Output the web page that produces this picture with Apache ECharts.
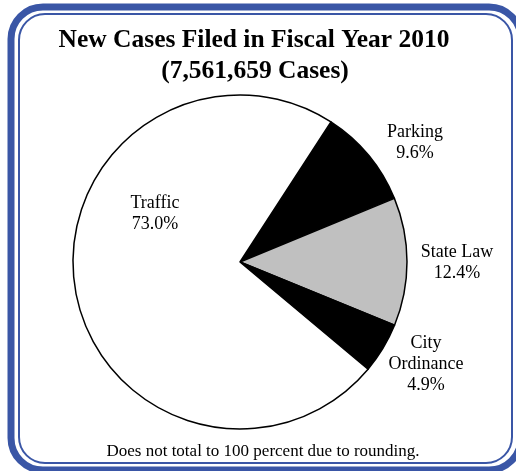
<!DOCTYPE html>
<html><head><meta charset="utf-8">
<script src="https://cdn.jsdelivr.net/npm/echarts@6/dist/echarts.min.js"></script>
<style>html,body{margin:0;padding:0;background:#fff}#c{width:516px;height:471px}</style>
</head><body><div id="c"></div>
<script>
const categories = ['Parking', 'State Law', 'City\nOrdinance', 'Traffic'];
const values = [9.6, 12.4, 4.9, 73.0];
const valueLabels = ['9.6%', '12.4%', '4.9%', '73.0%'];
const titleLines = ['New Cases Filed in Fiscal Year 2010', '(7,561,659 Cases)'];
const footnote = 'Does not total to 100 percent due to rounding.';

const colors = ['#000000', '#c0c0c0', '#000000', '#ffffff'];
const labelPos = [[415, 143], [457, 263], [426, 364], [155, 214]];
const FONT = '"Liberation Serif", serif';

const chart = echarts.init(document.getElementById('c'), null, {renderer: 'canvas'});
chart.setOption({
  animation: false,
  backgroundColor: '#fff',
  graphic: [
    {type: 'rect', shape: {x: 11, y: 7, width: 510, height: 463, r: 32},
     style: {fill: 'none', stroke: '#3a56a6', lineWidth: 7}},
    {type: 'rect', shape: {x: 19, y: 14, width: 493, height: 449, r: 26},
     style: {fill: 'none', stroke: '#3a56a6', lineWidth: 2}},
    {type: 'text', x: 254, y: 40,
     style: {text: titleLines[0], font: 'bold 25.5px ' + FONT, fill: '#000', align: 'center', verticalAlign: 'middle'}},
    {type: 'text', x: 255, y: 71,
     style: {text: titleLines[1], font: 'bold 25.5px ' + FONT, fill: '#000', align: 'center', verticalAlign: 'middle'}},
    {type: 'text', x: 263, y: 452,
     style: {text: footnote, font: '17px ' + FONT, fill: '#000', align: 'center', verticalAlign: 'middle'}}
  ],
  series: [{
    type: 'pie',
    center: [240, 262],
    radius: [0, 167],
    startAngle: 57,
    clockwise: true,
    avoidLabelOverlap: false,
    itemStyle: {borderColor: '#000', borderWidth: 1.5},
    emphasis: {disabled: true},
    labelLine: {show: false},
    label: {
      show: true,
      position: 'outside',
      color: '#000',
      fontFamily: FONT,
      fontSize: 18,
      lineHeight: 21,
      align: 'center',
      formatter: p => p.name + '\n' + valueLabels[p.dataIndex]
    },
    labelLayout: p => ({x: labelPos[p.dataIndex][0], y: labelPos[p.dataIndex][1], align: 'center', verticalAlign: 'middle'}),
    data: categories.map((c, i) => ({name: c, value: values[i], itemStyle: {color: colors[i]}}))
  }]
});
</script></body></html>
